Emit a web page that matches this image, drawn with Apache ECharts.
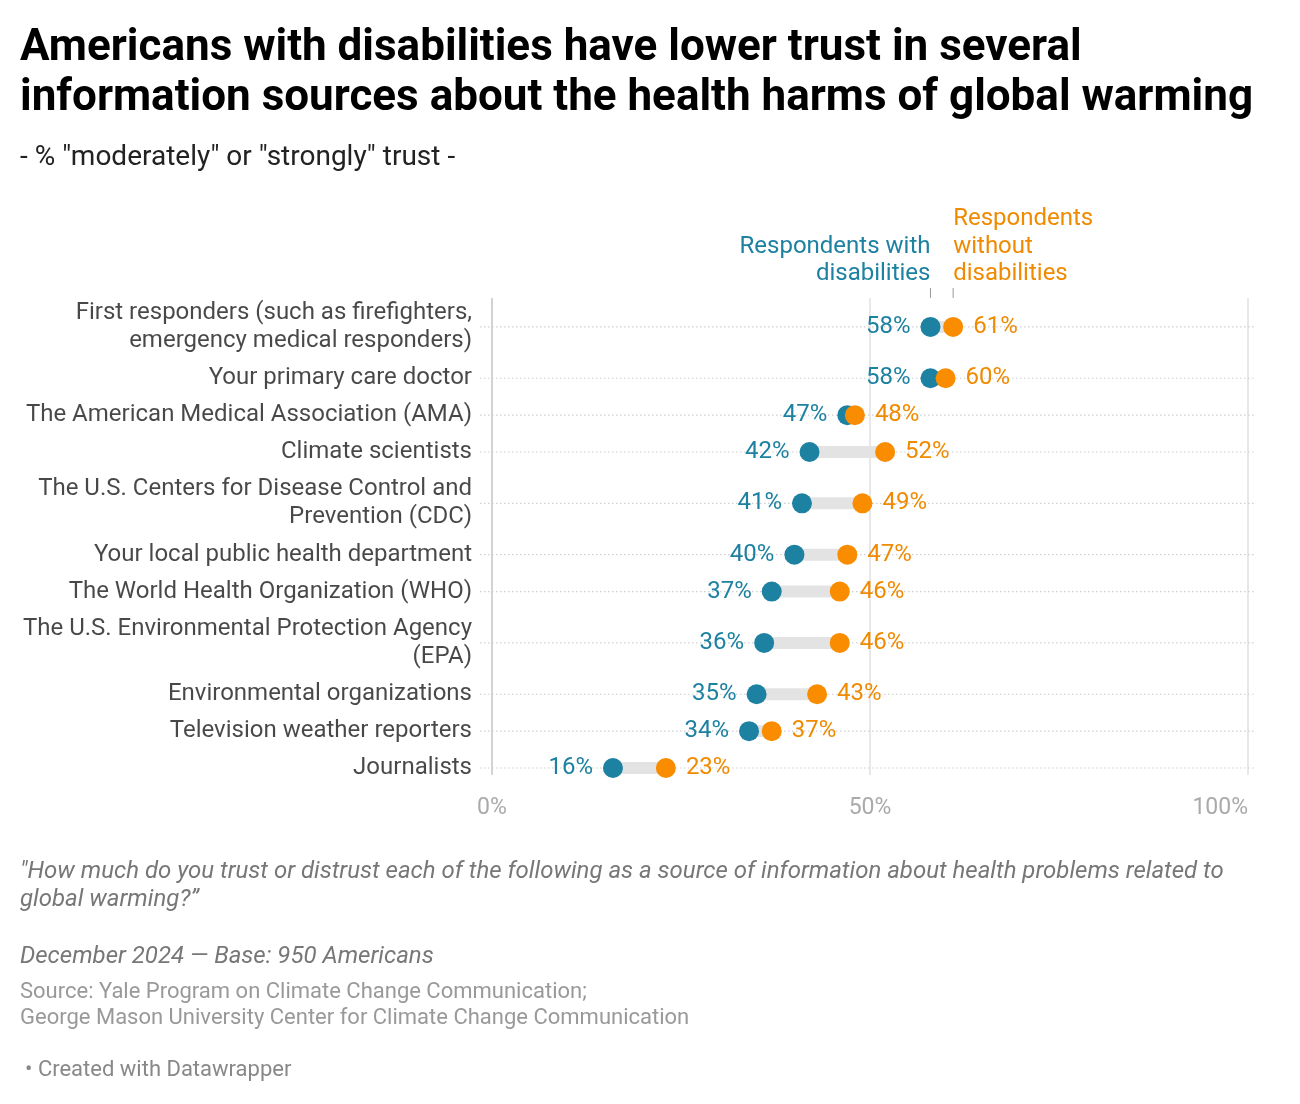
<!DOCTYPE html>
<html>
<head>
<meta charset="utf-8">
<script src="https://cdn.jsdelivr.net/npm/echarts@6/dist/echarts.min.js"></script>
<style>
  html, body { margin: 0; padding: 0; background: #fff; }
  #main { width: 1300px; height: 1104px; }
</style>
</head>
<body>
<div id="main"></div>
<script>
// data
const categories = [
  'First responders (such as firefighters,\nemergency medical responders)',
  'Your primary care doctor',
  'The American Medical Association (AMA)',
  'Climate scientists',
  'The U.S. Centers for Disease Control and\nPrevention (CDC)',
  'Your local public health department',
  'The World Health Organization (WHO)',
  'The U.S. Environmental Protection Agency\n(EPA)',
  'Environmental organizations',
  'Television weather reporters',
  'Journalists'
];
const withDisabilities = [58, 58, 47, 42, 41, 40, 37, 36, 35, 34, 16];
const withoutDisabilities = [61, 60, 48, 52, 49, 47, 46, 46, 43, 37, 23];
const xTicks = [0, 50, 100];

const TEAL = '#1d81a2';
const ORANGE = '#fa8c00';
const ORANGE_TXT = '#f08a00';
const FONT = 'Roboto, "Noto Sans", sans-serif';

// row centres: two-line labels get a taller row
const lineCount = categories.map(c => c.split('\n').length);
const rowH = n => (n === 1 ? 37 : 66);
const rowPos = [];
let acc = 0;
lineCount.forEach((n, i) => {
  if (i > 0) acc += (rowH(lineCount[i - 1]) + rowH(n)) / 2;
  rowPos.push(acc);
});

const chart = echarts.init(document.getElementById('main'));

chart.setOption({
  animation: false,
  backgroundColor: '#fff',
  textStyle: { fontFamily: FONT },
  grid: { left: 492, right: 52, top: 298, bottom: 329 },
  xAxis: {
    type: 'value',
    min: xTicks[0],
    max: xTicks[xTicks.length - 1],
    interval: 50,
    axisLine: { show: false },
    axisTick: { show: false },
    axisLabel: {
      formatter: '{value}%',
      color: '#aaa',
      fontSize: 23,
      margin: 22,
      fontFamily: FONT,
      alignMaxLabel: 'right'
    },
    splitLine: { show: true, lineStyle: { color: ['#c4c4c4', '#e0e0e0', '#e0e0e0'], width: 1.5 } }
  },
  yAxis: {
    type: 'value',
    inverse: true,
    min: -29,
    max: rowPos[rowPos.length - 1] + 7,
    show: false
  },
  graphic: [
    {
      type: 'text', left: 20, top: 24,
      style: {
        text: 'Americans with disabilities have lower trust in several\ninformation sources about the health harms of global warming',
        font: 'bold 44px ' + FONT, lineHeight: 50, fill: '#000'
      }
    },
    {
      type: 'text', left: 20, top: 143,
      style: { text: '- % "moderately" or "strongly" trust -', font: '28px ' + FONT, lineHeight: 30, fill: '#222' }
    },
    {
      type: 'text', left: 20, top: 858,
      style: {
        text: '"How much do you trust or distrust each of the following as a source of information about health problems related to\nglobal warming?\u201d',
        font: 'italic 24px ' + FONT, lineHeight: 28, fill: '#777'
      }
    },
    {
      type: 'text', left: 20, top: 943,
      style: { text: 'December 2024 \u2014 Base: 950 Americans', font: 'italic 24px ' + FONT, lineHeight: 28, fill: '#777' }
    },
    {
      type: 'text', left: 20, top: 979,
      style: {
        text: 'Source: Yale Program on Climate Change Communication;\nGeorge Mason University Center for Climate Change Communication',
        font: '22px ' + FONT, lineHeight: 26, fill: '#999'
      }
    },
    {
      type: 'text', left: 25, top: 1057,
      style: { text: '\u2022 Created with Datawrapper', font: '22px ' + FONT, lineHeight: 26, fill: '#888' }
    }
  ],
  series: [
    {
      // dotted row lines
      type: 'custom',
      silent: true,
      z: 1,
      data: rowPos.map(p => [0, p]),
      renderItem: function (params, api) {
        const a = api.coord([0, api.value(1)]);
        const b = api.coord([100, api.value(1)]);
        return {
          type: 'line',
          shape: { x1: a[0] - 12, y1: a[1], x2: b[0] + 8, y2: b[1] },
          style: { stroke: '#cfcfcf', lineWidth: 1.2, lineDash: [1.5, 2.5] }
        };
      }
    },
    {
      // grey connector between the two dots
      type: 'custom',
      silent: true,
      z: 2,
      data: rowPos.map((p, i) => [withDisabilities[i], withoutDisabilities[i], p]),
      renderItem: function (params, api) {
        const a = api.coord([Math.min(api.value(0), api.value(1)), api.value(2)]);
        const b = api.coord([Math.max(api.value(0), api.value(1)), api.value(2)]);
        return {
          type: 'rect',
          shape: { x: a[0], y: a[1] - 6, width: b[0] - a[0], height: 12 },
          style: { fill: '#e3e3e3' }
        };
      }
    },
    {
      // category labels on the left
      type: 'scatter',
      silent: true,
      symbolSize: 0,
      data: rowPos.map((p, i) => ({ value: [0, p], name: categories[i] })),
      label: {
        show: true,
        position: 'left',
        distance: 20,
        align: 'right',
        formatter: p => p.name,
        color: '#1a1a1a',
        fontSize: 24,
        lineHeight: 28,
        fontFamily: FONT
      }
    },
    {
      name: 'Respondents with disabilities',
      type: 'scatter',
      z: 4,
      symbolSize: 20,
      itemStyle: { color: TEAL, opacity: 1 },
      data: withDisabilities.map((v, i) => [v, rowPos[i]]),
      label: {
        show: true,
        position: 'left',
        distance: 10,
        formatter: p => p.value[0] + '%',
        color: TEAL,
        fontSize: 24,
        fontFamily: FONT
      }
    },
    {
      name: 'Respondents without disabilities',
      type: 'scatter',
      z: 5,
      symbolSize: 20,
      itemStyle: { color: ORANGE, opacity: 1 },
      data: withoutDisabilities.map((v, i) => [v, rowPos[i]]),
      label: {
        show: true,
        position: 'right',
        distance: 10,
        formatter: p => p.value[0] + '%',
        color: ORANGE_TXT,
        fontSize: 24,
        fontFamily: FONT
      }
    },
    {
      // series annotations above the first row
      type: 'custom',
      silent: true,
      z: 6,
      clip: false,
      data: [[withDisabilities[0], withoutDisabilities[0], rowPos[0]]],
      renderItem: function (params, api) {
        const a = api.coord([api.value(0), api.value(2)]);
        const b = api.coord([api.value(1), api.value(2)]);
        const baseY = a[1] - 39;
        return {
          type: 'group',
          children: [
            { type: 'line', shape: { x1: a[0], y1: baseY, x2: a[0], y2: baseY + 10 }, style: { stroke: '#999', lineWidth: 1 } },
            { type: 'line', shape: { x1: b[0], y1: baseY, x2: b[0], y2: baseY + 10 }, style: { stroke: '#999', lineWidth: 1 } },
            {
              type: 'text', x: a[0], y: baseY,
              style: { text: 'Respondents with\ndisabilities', align: 'right', verticalAlign: 'bottom', font: '24px ' + FONT, lineHeight: 27.5, fill: TEAL }
            },
            {
              type: 'text', x: b[0], y: baseY,
              style: { text: 'Respondents\nwithout\ndisabilities', align: 'left', verticalAlign: 'bottom', font: '24px ' + FONT, lineHeight: 27.5, fill: ORANGE_TXT }
            }
          ]
        };
      }
    }
  ]
});
</script>
</body>
</html>
